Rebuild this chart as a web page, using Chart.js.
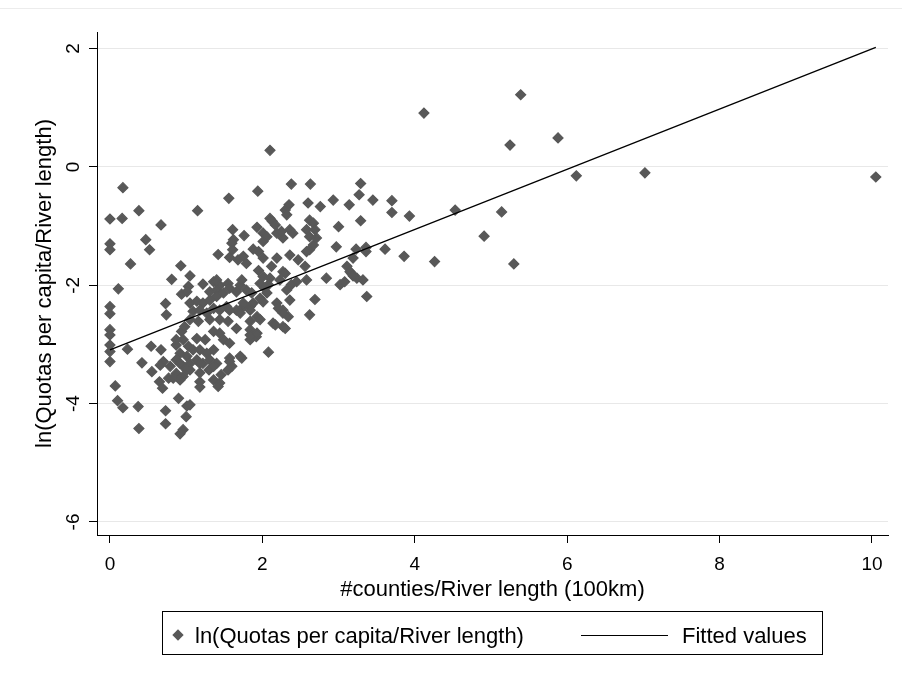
<!DOCTYPE html>
<html>
<head>
<meta charset="utf-8">
<script src="https://cdn.jsdelivr.net/npm/chart.js@4.4.1/dist/chart.umd.min.js"></script>
<style>
  body { margin: 0; background: #fff; }
  #wrap { position: relative; width: 902px; height: 680px; }
  #topline { position: absolute; left: 0; top: 8px; width: 902px; border-top: 1px solid #ececec; }
  #legend { position: absolute; left: 162px; top: 611px; width: 661px; height: 44px; border: 1px solid #000;
            box-sizing: border-box; font: 22px "Liberation Sans", Arial, sans-serif; color: #000; }
  #legend .item { position: absolute; top: 2px; line-height: 43px; white-space: nowrap; }
  #legend .diamond { position: absolute; width: 8px; height: 8px; background: #585858; transform: rotate(45deg); }
  #legend .line { position: absolute; height: 0; border-top: 1.3px solid #000; }
</style>
</head>
<body>
<div id="wrap">
  <div id="topline"></div>
  <canvas id="scatterChart"></canvas>
  <div id="legend"></div>
</div>
<script>
// x: #counties / river length (100km), y: ln(quotas per capita / river length)
const countiesPerRiver = [
  2.10,0.17,0.00,0.16,0.38,0.67,1.15,1.56,1.94,0.00,
  0.00,0.47,0.52,0.27,0.93,0.81,1.05,1.03,0.11,0.00,
  0.00,0.73,0.74,0.94,0.00,0.00,0.00,0.00,0.00,0.23,
  0.54,0.67,0.42,0.55,0.07,0.10,0.17,0.37,0.38,0.73,
  0.73,0.90,1.01,1.05,1.00,0.96,0.92,0.65,0.69,0.77,
  1.18,1.44,1.36,1.30,1.60,1.73,2.08,1.92,1.84,2.14,
  2.27,1.42,1.61,1.62,1.60,1.76,1.68,1.75,1.79,1.57,
  1.88,1.95,1.93,2.01,2.10,2.13,2.19,2.30,2.32,2.27,
  2.19,1.95,2.01,2.12,2.27,1.22,1.36,1.44,1.55,1.01,
  1.31,1.40,1.49,1.66,1.79,1.86,1.71,1.05,1.14,1.22,
  1.31,1.09,1.18,1.27,1.36,1.44,1.53,1.66,1.75,1.84,
  1.05,1.16,1.31,1.44,1.55,1.71,1.84,1.93,1.66,1.84,
  0.94,0.96,1.03,1.14,1.25,1.36,1.44,1.49,1.57,0.87,
  0.92,1.01,1.09,1.18,1.27,1.36,0.87,0.96,1.05,1.14,
  1.22,1.31,1.40,1.57,1.71,1.55,1.46,0.87,0.96,1.05,
  1.18,1.36,0.83,1.18,1.42,0.70,0.79,0.66,0.87,0.98,
  0.92,1.01,0.92,1.18,2.38,2.63,2.35,2.60,2.62,2.06,
  2.01,2.17,2.25,2.36,2.40,1.61,2.01,2.36,2.47,2.56,
  2.62,2.67,2.71,2.58,2.67,2.45,2.38,2.10,2.08,1.40,
  1.57,1.73,1.97,2.03,2.23,2.32,2.36,2.58,2.01,2.19,
  2.27,2.34,2.62,1.40,1.57,1.75,1.84,1.57,2.30,1.84,
  1.93,3.29,3.27,3.45,2.93,3.14,2.76,3.70,3.70,3.93,
  3.29,3.00,2.69,2.62,2.97,3.23,3.36,3.61,3.86,2.58,
  2.30,2.84,3.11,3.17,3.24,3.32,3.02,3.08,3.37,2.69,
  2.27,2.21,2.17,1.97,2.06,1.97,1.88,3.36,3.19,3.15,
  3.19,4.12,5.39,5.88,5.25,6.12,7.02,10.05,4.53,5.14,
  4.91,4.26,5.30
];
const lnQuotas = [
  0.28,-0.35,-0.88,-0.87,-0.74,-0.98,-0.74,-0.53,-0.41,-1.30,
  -1.40,-1.23,-1.40,-1.64,-1.67,-1.90,-1.84,-2.02,-2.06,-2.36,
  -2.48,-2.31,-2.50,-2.15,-2.75,-2.84,-3.01,-3.12,-3.29,-3.08,
  -3.03,-3.09,-3.31,-3.46,-3.70,-3.95,-4.07,-4.05,-4.42,-4.12,
  -4.34,-3.91,-4.04,-4.02,-4.22,-4.44,-4.51,-3.63,-3.74,-3.57,
  -3.63,-3.65,-3.60,-3.43,-3.37,-3.23,-3.13,-2.87,-2.92,-2.64,
  -2.70,-1.48,-1.06,-1.23,-1.29,-1.16,-1.57,-1.51,-1.63,-1.53,
  -1.39,-1.43,-1.02,-1.12,-0.87,-0.92,-1.12,-0.73,-0.81,-1.20,
  -1.54,-1.75,-1.85,-1.68,-1.77,-1.98,-1.94,-2.00,-1.97,-2.11,
  -2.11,-2.08,-2.13,-2.11,-2.08,-2.13,-2.00,-2.30,-2.27,-2.30,
  -2.25,-2.44,-2.42,-2.47,-2.39,-2.42,-2.36,-2.42,-2.36,-2.36,
  -2.58,-2.61,-2.58,-2.58,-2.61,-2.47,-2.61,-2.53,-2.73,-2.75,
  -2.78,-2.92,-3.03,-2.90,-2.92,-2.78,-2.81,-2.92,-2.98,-3.01,
  -3.15,-3.20,-3.09,-3.09,-3.15,-3.09,-3.26,-3.37,-3.32,-3.26,
  -3.32,-3.26,-3.32,-3.23,-3.20,-3.43,-3.51,-3.49,-3.54,-3.43,
  -3.48,-3.37,-3.57,-3.72,-3.71,-3.29,-3.37,-3.35,-2.92,-2.70,
  -3.32,-3.43,-3.60,-3.32,-0.29,-0.29,-0.64,-0.61,-0.90,-1.18,
  -1.26,-0.98,-1.09,-1.06,-1.12,-1.40,-1.54,-1.49,-1.57,-1.68,
  -1.40,-1.32,-1.20,-1.06,-0.95,-1.94,-1.99,-1.88,-1.99,-1.91,
  -2.05,-1.91,-1.97,-2.05,-1.91,-2.08,-2.25,-1.91,-2.28,-2.30,
  -2.42,-2.53,-2.50,-2.19,-2.42,-2.30,-2.42,-3.29,-2.73,-2.84,
  -2.81,-0.28,-0.47,-0.56,-0.56,-0.64,-0.67,-0.57,-0.77,-0.83,
  -0.91,-1.01,-1.06,-1.18,-1.35,-1.39,-1.36,-1.39,-1.51,-1.43,
  -1.80,-1.88,-1.68,-1.80,-1.88,-1.91,-1.99,-1.94,-2.19,-2.24,
  -2.47,-2.39,-2.67,-2.58,-2.13,-2.22,-2.30,-1.43,-1.54,-1.77,
  -1.84,0.91,1.22,0.49,0.37,-0.15,-0.10,-0.17,-0.73,-0.76,
  -1.17,-1.60,-1.64
];
// fitted values line (two end points)
const fitX = [0, 10.05];
const fitY = [-3.09, 2.02];

const xTicks = [0, 2, 4, 6, 8, 10];
const yTicks = [-6, -4, -2, 0, 2];

const seriesLabel = 'ln(Quotas per capita/River length)';
const fitLabel = 'Fitted values';
const xTitle = '#counties/River length (100km)';
const yTitle = 'ln(Quotas per capita/River length)';

const FONT = '"Liberation Sans", Arial, sans-serif';
const markerColor = '#585858';

const ctx = document.getElementById('scatterChart').getContext('2d');
const chart = new Chart(ctx, {
    type: 'scatter',
    data: {
        datasets: [{
            label: seriesLabel,
            data: countiesPerRiver.map((x, i) => ({ x: x, y: lnQuotas[i] })),
            pointStyle: 'rectRot',
            pointRadius: 5,
            backgroundColor: markerColor,
            borderColor: markerColor,
            borderWidth: 1.2,
            order: 1
        }, {
            label: fitLabel,
            data: fitX.map((x, i) => ({ x: x, y: fitY[i] })),
            showLine: true,
            pointRadius: 0,
            borderColor: '#000',
            borderWidth: 1.3,
            fill: false,
            order: 0
        }]
    },
    options: {
        responsive: true,
        maintainAspectRatio: false,
        animation: false,
        layout: { padding: { top: 32, right: 14, left: 0, bottom: 0 } },
        plugins: {
            legend: { display: false },
            tooltip: { enabled: false }
        },
        scales: {
            x: {
                type: 'linear',
                min: -0.17,
                max: 10.21,
                afterBuildTicks: s => { s.ticks = xTicks.map(v => ({ value: v })); },
                afterFit: s => { s.height = 145; },
                grid: { drawOnChartArea: false, drawTicks: true, tickLength: 8, tickColor: '#000' },
                border: { display: true, color: '#000', width: 1 },
                ticks: { color: '#000', font: { family: FONT, size: 19 }, padding: 10, maxRotation: 0 },
                title: { display: true, text: xTitle, color: '#000', font: { family: FONT, size: 22 },
                         padding: { top: 0, bottom: 77 } }
            },
            y: {
                type: 'linear',
                min: -6.22,
                max: 2.28,
                afterBuildTicks: s => { s.ticks = yTicks.map(v => ({ value: v })); },
                afterFit: s => { s.width = 97; },
                grid: { color: '#e8e8e8', lineWidth: 1, drawTicks: true, tickLength: 8, tickColor: '#000' },
                border: { display: true, color: '#000', width: 1 },
                ticks: { color: '#000', font: { family: FONT, size: 19 }, padding: 7,
                         minRotation: 90, maxRotation: 90, crossAlign: 'center' },
                title: { display: true, text: yTitle, color: '#000', font: { family: FONT, size: 22 },
                         padding: { top: 32, bottom: 0 } }
            }
        }
    }
});

// legend box like Stata's, built from the dataset labels
const legendEl = document.getElementById('legend');
const ds = chart.data.datasets;
legendEl.innerHTML =
    '<span class="diamond" style="left:11px;top:19px"></span>' +
    '<span class="item" style="left:32px">' + ds[0].label + '</span>' +
    '<span class="line" style="left:418px;top:23px;width:87px"></span>' +
    '<span class="item" style="left:519px">' + ds[1].label + '</span>';
</script>
</body>
</html>
